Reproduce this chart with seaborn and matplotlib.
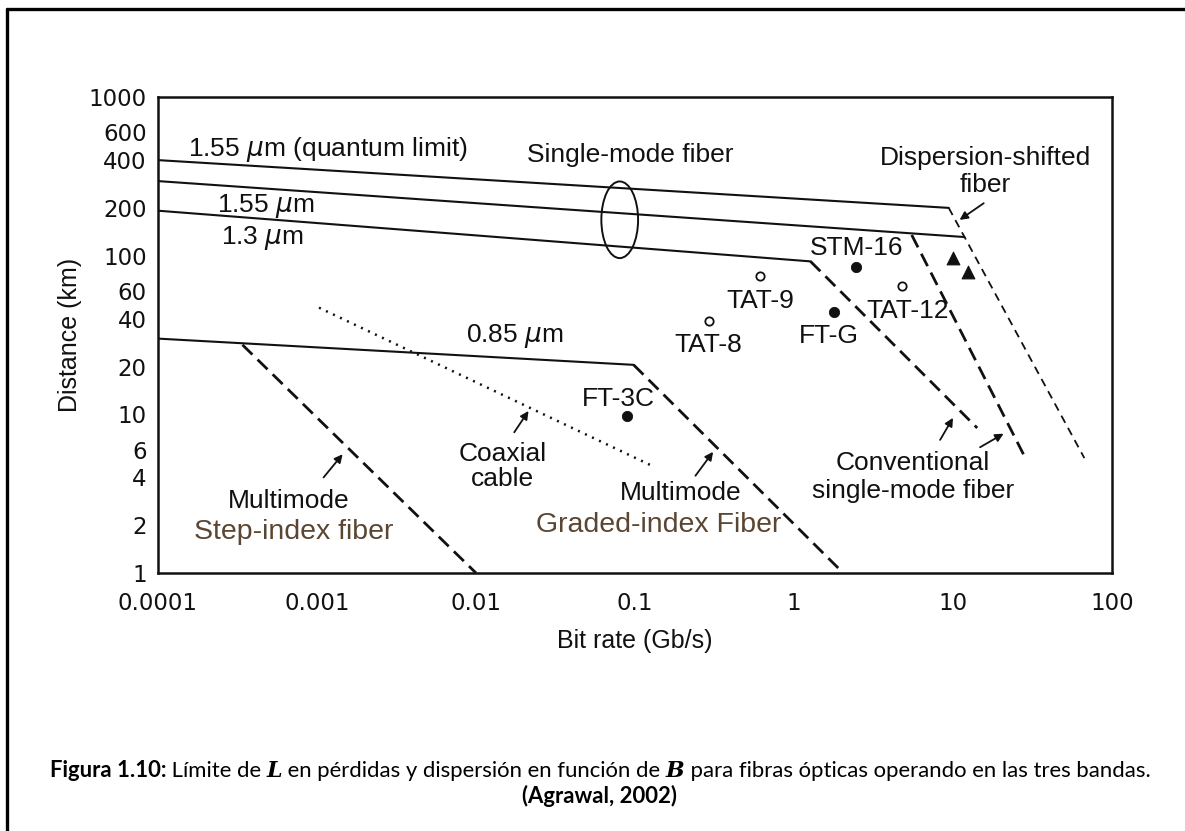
import numpy as np
import pandas as pd
import matplotlib
matplotlib.use("Agg")
import matplotlib.pyplot as plt
import seaborn as sns
from matplotlib.patches import Ellipse
from matplotlib.lines import Line2D
from matplotlib.ticker import FixedLocator, NullLocator
from matplotlib.offsetbox import TextArea, HPacker, AnchoredOffsetbox

# ---------------- data ----------------
quantum_rate = [1e-4, 9.4]
quantum_dist = [400, 200]
sm155_rate = [1e-4, 11.8]
sm155_dist = [295, 131]
sm13_rate = [1e-4, 1.27]
sm13_dist = [192, 92]
mm085_rate = [1e-4, 0.098]
mm085_dist = [30, 20.5]
step_rate = [3.4e-4, 0.01]
step_dist = [27.4, 1]
graded_rate = [0.098, 2.04]
graded_dist = [20.5, 1]
conv13_rate = [1.27, 14.2]
conv13_dist = [92, 8.2]
conv155_rate = [5.5, 28]
conv155_dist = [135, 5.5]
dsf_rate = [9.4, 67]
dsf_dist = [200, 5.3]
coax_rate = [0.00103, 0.13]
coax_dist = [47, 4.7]

filled_names = ["FT-3C", "FT-G", "STM-16"]
filled_rate = [0.089, 1.78, 2.46]
filled_dist = [9.7, 44, 85]
open_names = ["TAT-8", "TAT-9", "TAT-12"]
open_rate = [0.29, 0.61, 4.8]
open_dist = [38.5, 74, 64]
tri_rate = [10, 12.4]
tri_dist = [97, 79]

x_ticks = [1e-4, 1e-3, 1e-2, 1e-1, 1, 10, 100]
x_ticklabels = ["0.0001", "0.001", "0.01", "0.1", "1", "10", "100"]
y_ticks = [1, 2, 4, 6, 10, 20, 40, 60, 100, 200, 400, 600, 1000]
y_ticklabels = ["1", "2", "4", "6", "10", "20", "40", "60", "100", "200", "400", "600", "1000"]
y_minor = [8, 80, 800]

# ---------------- figure ----------------
sns.set_theme(style="white")
plt.rcParams["font.family"] = ["Liberation Sans", "DejaVu Sans"]

fig = plt.figure(figsize=(11.85, 8.31), dpi=100)
ax = fig.add_axes([0.1333, 0.3105, 0.8051, 0.5728])
ax.set_xscale("log")
ax.set_yscale("log")

K = "#111111"
solid = dict(color=K, linewidth=1.5, linestyle="-")
dashed = dict(color=K, linewidth=2.0, linestyle=(0, (5, 2.6)))
dashed_thin = dict(color=K, linewidth=1.3, linestyle=(0, (4.5, 3.2)))
dotted = dict(color=K, linewidth=1.8, linestyle=(0, (0.8, 2.3)))

def seg(xs, ys, style):
    sns.lineplot(x=xs, y=ys, ax=ax, sort=False, estimator=None, legend=False, **style)

seg(quantum_rate, quantum_dist, solid)
seg(sm155_rate, sm155_dist, solid)
seg(sm13_rate, sm13_dist, solid)
seg(mm085_rate, mm085_dist, solid)
seg(step_rate, step_dist, dashed)
seg(graded_rate, graded_dist, dashed)
seg(conv13_rate, conv13_dist, dashed)
seg(conv155_rate, conv155_dist, dashed)
seg(dsf_rate, dsf_dist, dashed_thin)
seg(coax_rate, coax_dist, dotted)

sns.scatterplot(x=filled_rate, y=filled_dist, ax=ax, s=55, color=K, marker="o", edgecolor=K, legend=False, zorder=5)
sns.scatterplot(x=open_rate, y=open_dist, ax=ax, s=36, facecolor="white", marker="o", edgecolor=K, linewidth=1.3, legend=False, zorder=5)
sns.scatterplot(x=tri_rate, y=tri_dist, ax=ax, s=85, color=K, marker="^", edgecolor=K, legend=False, zorder=5)

ax.set_xlim(1e-4, 100)
ax.set_ylim(1, 1000)
ax.xaxis.set_major_locator(FixedLocator(x_ticks))
ax.set_xticklabels(x_ticklabels)
ax.xaxis.set_minor_locator(NullLocator())
ax.yaxis.set_major_locator(FixedLocator(y_ticks))
ax.set_yticklabels(y_ticklabels)
ax.yaxis.set_minor_locator(FixedLocator(y_minor))
ax.tick_params(axis="both", which="both", direction="in", colors=K, width=1.3)
ax.tick_params(axis="x", which="major", length=9, pad=13.5)
ax.tick_params(axis="y", which="both", length=5, pad=8)
for lab in ax.get_xticklabels() + ax.get_yticklabels():
    lab.set_fontfamily("DejaVu Sans")
    lab.set_fontsize(16.5)
for s in ax.spines.values():
    s.set_color(K)
    s.set_linewidth(1.8)
ax.set_xlabel("Bit rate (Gb/s)", fontsize=18, color=K, labelpad=10)
ax.set_ylabel("Distance (km)", fontsize=18, color=K, labelpad=5)
ax.grid(False)

# ellipse marking the single-mode group (in axes fraction)
ax.add_patch(Ellipse((0.4840, 0.742), 0.0385, 0.161, transform=ax.transAxes,
                     fill=False, edgecolor=K, linewidth=1.4))

fs = 19
tk = dict(fontsize=fs, color=K)
ax.text(1.55e-4, 464, r"1.55 $\mu$m (quantum limit)", ha="left", va="center", **tk)
ax.text(0.093, 430, "Single-mode fiber", ha="center", va="center", **tk)
ax.text(2.36e-4, 207, r"1.55 $\mu$m", ha="left", va="center", **tk)
ax.text(2.5e-4, 129, r"1.3 $\mu$m", ha="left", va="center", **tk)
ax.text(0.0175, 31, r"0.85 $\mu$m", ha="center", va="center", **tk)
ax.text(15.9, 410, "Dispersion-shifted", ha="center", va="center", **tk)
ax.text(15.9, 279, "fiber", ha="center", va="center", **tk)
ax.text(2.46, 112, "STM-16", ha="center", va="center", **tk)
ax.text(5.2, 45, "TAT-12", ha="center", va="center", **tk)
ax.text(1.66, 31, "FT-G", ha="center", va="center", **tk)
ax.text(0.61, 52, "TAT-9", ha="center", va="center", **tk)
ax.text(0.29, 27.5, "TAT-8", ha="center", va="center", **tk)
ax.text(0.079, 12.5, "FT-3C", ha="center", va="center", **tk)
ax.text(0.0147, 5.6, "Coaxial", ha="center", va="center", **tk)
ax.text(0.0147, 3.9, "cable", ha="center", va="center", **tk)
ax.text(5.6, 4.95, "Conventional", ha="center", va="center", **tk)
ax.text(5.6, 3.3, "single-mode fiber", ha="center", va="center", **tk)
ax.text(6.6e-4, 2.83, "Multimode", ha="center", va="center", **tk)
ax.text(0.195, 3.18, "Multimode", ha="center", va="center", **tk)
brown = "#5a4632"
ax.text(7.1e-4, 1.8, "Step-index fiber", ha="center", va="center", fontsize=20.5, color=brown)
ax.text(0.14, 2.0, "Graded-index Fiber", ha="center", va="center", fontsize=20.5, color=brown)

arrow = dict(arrowstyle="-|>", color=K, lw=1.3, mutation_scale=12, shrinkA=0, shrinkB=0)
ax.annotate("", xy=(0.0214, 10.5), xytext=(0.0174, 7.7), arrowprops=arrow)
ax.annotate("", xy=(1.45e-3, 5.6), xytext=(1.1e-3, 4.0), arrowprops=arrow)
ax.annotate("", xy=(0.31, 5.8), xytext=(0.24, 4.1), arrowprops=arrow)
ax.annotate("", xy=(10.0, 9.5), xytext=(8.3, 6.9), arrowprops=arrow)
ax.annotate("", xy=(20.8, 7.55), xytext=(14.8, 6.2), arrowprops=arrow)
ax.annotate("", xy=(11.0, 168), xytext=(15.6, 214), arrowprops=arrow)

# outer frame of the page figure
fig.add_artist(Line2D([0.0055, 0.0055], [0.0, 0.9895], color="black", linewidth=2.4, transform=fig.transFigure))
fig.add_artist(Line2D([0.0055, 1.0], [0.9895, 0.9895], color="black", linewidth=2.4, transform=fig.transFigure))

# caption
cap_font = "Lato"
cs = 15.9
pieces = [
    ("Figura 1.10:", dict(fontweight="bold", family=cap_font)),
    (" Límite de ", dict(family=cap_font)),
    ("L", dict(fontweight="bold", fontstyle="italic", family="DejaVu Serif")),
    (" en pérdidas y dispersión en función de ", dict(family=cap_font)),
    ("B", dict(fontweight="bold", fontstyle="italic", family="DejaVu Serif")),
    (" para fibras ópticas operando en las tres bandas.", dict(family=cap_font)),
]
areas = [TextArea(t, textprops=dict(fontsize=cs, color="black", **p)) for t, p in pieces]
line1 = HPacker(children=areas, align="baseline", pad=0, sep=0)
ab1 = AnchoredOffsetbox(loc="center", child=line1, pad=0, frameon=False,
                        bbox_to_anchor=(600 / 1185, 1 - 771 / 831), bbox_transform=fig.transFigure)
fig.add_artist(ab1)
fig.text(600 / 1185, 1 - 796 / 831, "(Agrawal, 2002)", ha="center", va="center",
         fontsize=cs, fontweight="bold", family=cap_font, color="black")

fig.savefig("out.png", dpi=100, facecolor="white")
